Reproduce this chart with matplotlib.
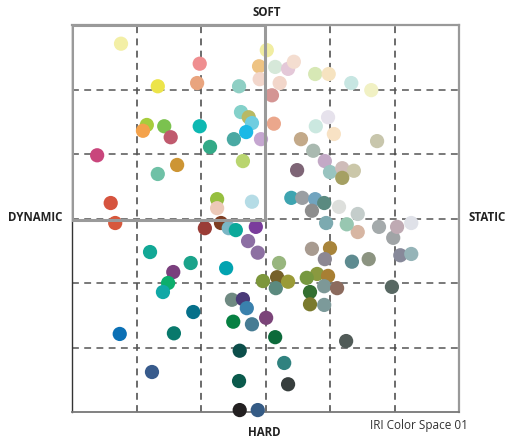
import matplotlib
matplotlib.use("Agg")
import matplotlib.pyplot as plt
from matplotlib.patches import Rectangle

# IRI colour space: x = dynamic(0) .. static(6), y = hard(0) .. soft(6)
xs = [0.76, 1.98, 1.33, 1.94, 2.59, 3.02, 2.90, 2.91, 3.10, 3.13,
      2.62, 2.74, 2.79, 2.70, 2.51, 2.93, 1.98, 2.14, 2.65, 1.16,
      1.43, 1.10, 1.53, 0.39, 1.63, 1.33, 0.60, 0.67, 2.25, 2.25,
      2.79, 2.06, 2.31, 2.43, 2.54, 2.85, 2.73, 2.88, 1.21, 1.84,
      1.57, 1.49, 1.41, 2.39, 2.96, 3.21, 2.48, 2.65, 2.71, 1.88,
      0.74, 1.58, 2.50, 2.79, 3.01, 3.15, 2.60, 1.24, 2.59, 2.60,
      2.88, 3.29, 3.35, 4.25, 3.18, 3.16, 3.35, 3.72, 4.00, 3.92,
      4.34, 4.60, 5.09, 5.26, 4.96, 3.80, 3.64, 3.97, 3.91, 4.11,
      3.69, 3.69, 3.91, 4.43, 4.98, 3.40, 3.57, 3.77, 3.91, 3.72,
      4.14, 4.43, 3.94, 4.26, 4.76, 5.04, 5.26, 3.55, 4.06, 4.73,
      3.74, 3.92, 3.49, 4.00, 4.19, 4.37, 4.19, 3.15, 3.35, 3.44,
      3.22, 3.77, 3.98, 4.33, 4.64, 3.97, 3.78]
ys = [5.71, 5.40, 5.05, 5.10, 5.05, 5.61, 5.36, 5.16, 4.91, 4.47,
      4.65, 4.57, 4.48, 4.34, 4.23, 4.23, 4.43, 4.11, 3.89, 4.45,
      4.43, 4.36, 4.26, 3.98, 3.83, 3.69, 3.24, 2.93, 3.30, 3.16,
      3.26, 2.85, 2.93, 2.85, 2.82, 2.87, 2.65, 2.47, 2.48, 2.31,
      2.17, 2.00, 1.86, 2.23, 2.03, 2.31, 1.74, 1.75, 1.61, 1.55,
      1.21, 1.22, 1.40, 1.36, 1.46, 1.16, 0.95, 0.62, 0.48, 0.03,
      0.03, 0.76, 0.43, 1.10, 2.09, 1.92, 2.02, 2.53, 2.54, 2.37,
      2.33, 2.37, 2.43, 2.45, 1.94, 2.14, 2.08, 2.11, 1.95, 1.92,
      1.86, 1.67, 1.66, 2.79, 2.70, 3.32, 3.32, 3.30, 3.24, 3.12,
      3.18, 3.07, 2.93, 2.91, 2.87, 2.87, 2.93, 4.23, 4.31, 4.20,
      4.05, 3.89, 3.75, 3.72, 3.78, 3.74, 3.63, 5.35, 5.32, 5.43,
      5.10, 5.24, 5.24, 5.10, 4.99, 4.57, 4.43]
colors = ["#f3efa6", "#ef8e90", "#ece44a", "#e9a47e", "#8fcfc4", "#f1eda2", "#eec383", "#f2d6cb", "#d49594", "#eba78c",
          "#84d1ca", "#b8b963", "#6fcde0", "#1bb9e6", "#4aa9a3", "#c5a6d0", "#0db8b2", "#33aa87", "#b9d56f", "#a7cd3d",
          "#7bc24f", "#f4a24b", "#c05a6e", "#c9467c", "#cd9534", "#6fc1a6", "#d6543f", "#d7583c", "#96bf3f", "#ecc9b8",
          "#b5dce6", "#9a3c36", "#7e3d22", "#7ab6c5", "#0ba99a", "#7a3c9c", "#8c6fa3", "#8d70a2", "#12a896", "#1aa38a",
          "#7a3f7d", "#0cae6c", "#11a8a6", "#02a3b0", "#7c963b", "#98b67e", "#6f8a82", "#4a3a78", "#3a81ad", "#05708a",
          "#0b70b5", "#08796c", "#068042", "#467c93", "#7b4479", "#0c6a3a", "#0c4e4a", "#385b8c", "#0b5a4c", "#232021",
          "#355b85", "#30827f", "#373e3d", "#515b58", "#76612a", "#5b8a7f", "#9a9a37", "#a89b90", "#a8843a", "#8c8793",
          "#5e8b90", "#8c9481", "#87899a", "#95b4b8", "#586863", "#8a993f", "#76983f", "#a87f33", "#7d9897", "#8c6b5e",
          "#336f30", "#7a7a2e", "#7c9a9a", "#d7b6a3", "#a0a4a6", "#3ea4b0", "#9a9ea2", "#71a4bf", "#5a8a80", "#8d8d8d",
          "#dddfdc", "#c4cdcb", "#7caab0", "#98c7b1", "#a4aaab", "#bfaab3", "#dfe1e8", "#c3a989", "#f8e2c4", "#c8c6ac",
          "#a9b9b0", "#c3a9c6", "#7e6576", "#99c4c0", "#cfbcb9", "#cbc7a9", "#a5a063", "#d6e8d9", "#e4c8d8", "#f4ddd0",
          "#f2d6ca", "#d7e8b5", "#f6e3c0", "#c7e6e2", "#f1f1c4", "#e6e2ec", "#cbe8e0"]

fig = plt.figure(figsize=(5.07, 4.38), dpi=100)
ax = fig.add_axes([72 / 507, 26 / 438, 387 / 507, 387 / 438])
ax.set_xlim(0, 6)
ax.set_ylim(0, 6)

# dashed grid
for v in range(1, 6):
    ax.axvline(v, color="#444444", lw=1.1, ls=(0, (4.5, 3.5)), zorder=1)
    ax.axhline(v, color="#555555", lw=1.1, ls=(0, (4.5, 3.5)), zorder=1)

ax.scatter(xs, ys, s=105, c=colors, linewidths=0, zorder=3, clip_on=False)

# highlighted zone
ax.add_patch(Rectangle((0, 2.98), 2.99, 3.02, fill=False, ec="#9a9a9a", lw=2.2, zorder=4))

ax.set_xticks([])
ax.set_yticks([])
ax.spines["left"].set_color("#333333")
ax.spines["left"].set_linewidth(1.0)
ax.spines["bottom"].set_color("#777777")
ax.spines["bottom"].set_linewidth(1.3)
ax.spines["right"].set_color("#999999")
ax.spines["right"].set_linewidth(1.6)
ax.spines["top"].set_color("#999999")
ax.spines["top"].set_linewidth(1.6)

fnt = "Open Sans"
fs = 8.3
fig.text(267 / 507, 1 - 12 / 438, "SOFT", ha="center", va="center", fontsize=fs, fontweight="bold", family=fnt, color="#222222")
fig.text(264 / 507, 1 - 432 / 438, "HARD", ha="center", va="center", fontsize=fs, fontweight="bold", family=fnt, color="#222222")
fig.text(35 / 507, 1 - 218 / 438, "DYNAMIC", ha="center", va="center", fontsize=fs, fontweight="bold", family=fnt, color="#222222")
fig.text(487 / 507, 1 - 218 / 438, "STATIC", ha="center", va="center", fontsize=fs, fontweight="bold", family=fnt, color="#222222")
fig.text(419 / 507, 1 - 425 / 438, "IRI Color Space 01", ha="center", va="center", fontsize=8.5, family=fnt, color="#333333")

fig.savefig("out.png", dpi=100)
